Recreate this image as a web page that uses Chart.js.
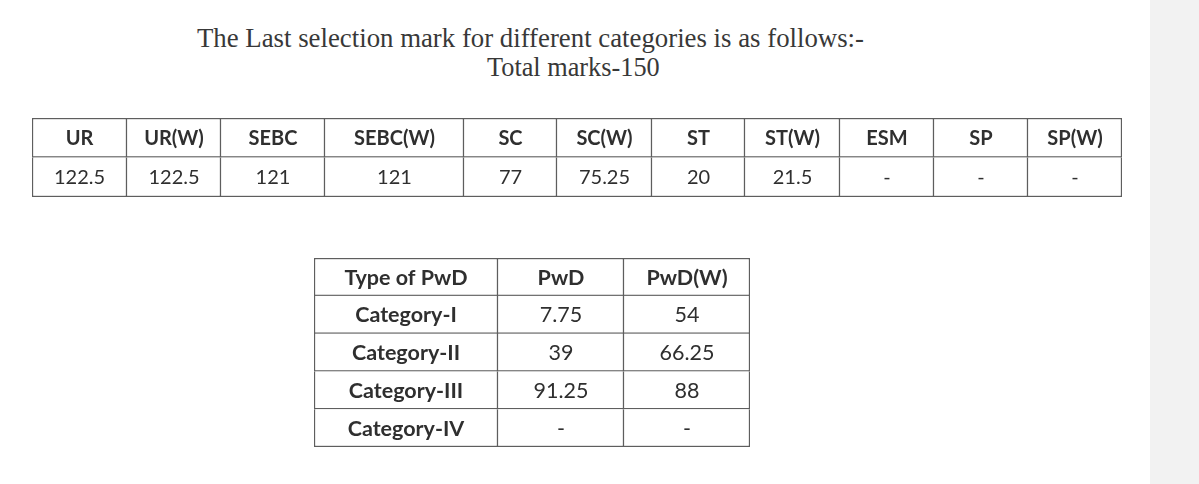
<!DOCTYPE html>
<html>
<head>
<meta charset="utf-8">
<script src="https://cdn.jsdelivr.net/npm/chart.js@4/dist/chart.umd.min.js"></script>
<style>
  html, body { margin: 0; padding: 0; background: #ffffff; }
  body { width: 1199px; height: 484px; position: relative; overflow: hidden; }
  .strip { position: absolute; left: 1150px; top: 0; width: 49px; height: 484px; background: #f2f2f2; }
  .title { position: absolute; font-family: "Liberation Serif", "Times New Roman", serif; color: #383838; white-space: nowrap; line-height: 1; }
  .box { position: absolute; }
</style>
</head>
<body>
<div class="strip"></div>
<div class="title" id="t1" style="left:197px; top:25px; font-size:26.8px;">The Last selection mark for different categories is as follows:-</div>
<div class="title" id="t2" style="left:487px; top:55px; font-size:26.3px;">Total marks-150</div>
<div class="box" style="left:32px; top:118px; width:1090px; height:79px;"><canvas id="topTable"></canvas></div>
<div class="box" style="left:314px; top:258px; width:436px; height:189px;"><canvas id="pwdTable"></canvas></div>
<script>
// ---- data ----
const categories = ['UR', 'UR(W)', 'SEBC', 'SEBC(W)', 'SC', 'SC(W)', 'ST', 'ST(W)', 'ESM', 'SP', 'SP(W)'];
const lastSelectionMarks = [122.5, 122.5, 121, 121, 77, 75.25, 20, 21.5, null, null, null];

const pwdHeaders = ['Type of PwD', 'PwD', 'PwD(W)'];
const pwdTypes = ['Category-I', 'Category-II', 'Category-III', 'Category-IV'];
const pwdMarks = [7.75, 39, 91.25, null];
const pwdWomenMarks = [54, 66.25, 88, null];

// ---- style (layout only) ----
const topColWidths = [95, 94, 104, 139, 93, 95, 93, 95, 94, 94, 94];
const pwdColWidths = [184, 126, 126];
const lineColor = '#5e5e5e';
const textColor = '#2f2f2f';
const fontFamily = 'Lato, "Open Sans", sans-serif';

function fmt(v) { return (v === null || v === undefined) ? '-' : String(v); }

// rows: array of arrays of {text, bold}
function makeTable(canvasId, colWidths, rows, fontSize) {
  const rowLabels = rows.map((_, i) => 'row' + i);
  const datasets = colWidths.map((w, c) => ({
    label: 'col' + c,
    data: rows.map(() => w),
    backgroundColor: '#ffffff',
    borderColor: lineColor,
    borderSkipped: false,
    borderWidth: (ctx) => ({
      left: ctx.datasetIndex === 0 ? 1.5 : 0,
      right: 1.5,
      top: ctx.dataIndex === 0 ? 1.5 : 0,
      bottom: 1.5
    }),
    barPercentage: 1,
    categoryPercentage: 1
  }));
  const total = colWidths.reduce((a, b) => a + b, 0);
  const textPlugin = {
    id: 'cellText',
    afterDatasetsDraw(chart) {
      const ctx = chart.ctx;
      ctx.save();
      ctx.fillStyle = textColor;
      ctx.textAlign = 'center';
      ctx.textBaseline = 'alphabetic';
      chart.data.datasets.forEach((ds, c) => {
        const meta = chart.getDatasetMeta(c);
        meta.data.forEach((el, r) => {
          const cell = rows[r][c];
          ctx.font = (cell.bold ? 'bold ' : '') + fontSize + 'px ' + fontFamily;
          const cx = (el.x + el.base) / 2;
          const cy = el.y + fontSize * 0.36;
          ctx.fillText(cell.text, cx, cy);
        });
      });
      ctx.restore();
    }
  };
  return new Chart(document.getElementById(canvasId), {
    type: 'bar',
    data: { labels: rowLabels, datasets },
    options: {
      indexAxis: 'y',
      responsive: true,
      maintainAspectRatio: false,
      animation: false,
      events: [],
      layout: { padding: 0 },
      plugins: { legend: { display: false }, tooltip: { enabled: false }, title: { display: false } },
      scales: {
        x: { type: 'linear', stacked: true, min: 0, max: total, display: false },
        y: { type: 'category', stacked: true, display: false }
      }
    },
    plugins: [textPlugin]
  });
}

const topRows = [
  categories.map(t => ({ text: t, bold: true })),
  lastSelectionMarks.map(v => ({ text: fmt(v), bold: false }))
];
makeTable('topTable', topColWidths, topRows, 20);

const pwdRows = [pwdHeaders.map(t => ({ text: t, bold: true }))].concat(
  pwdTypes.map((t, i) => [
    { text: t, bold: true },
    { text: fmt(pwdMarks[i]), bold: false },
    { text: fmt(pwdWomenMarks[i]), bold: false }
  ])
);
makeTable('pwdTable', pwdColWidths, pwdRows, 21.5);
</script>
</body>
</html>
